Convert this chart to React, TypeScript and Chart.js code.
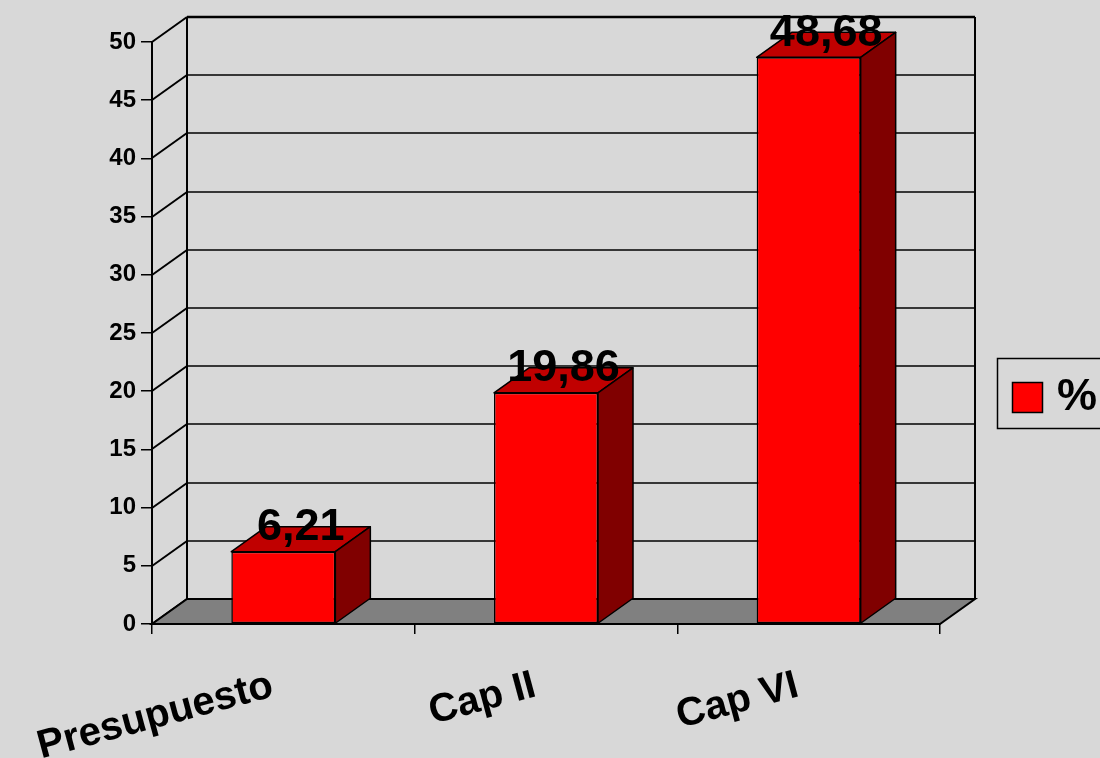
import React, { useEffect, useRef } from 'react';
import { Chart, registerables } from 'chart.js';

Chart.register(...registerables);

// ---- data ----
const categories = ['Presupuesto', 'Cap II', 'Cap VI'];
const values = [6.21, 19.86, 48.68];
const seriesName = '%';
const yMin = 0;
const yMax = 50;
const yStep = 5;

// ---- style ----
const FONT = '"Liberation Sans", Arial, sans-serif';
const BG = '#D8D8D8';
const FLOOR = '#808080';
const FRONT = '#FF0000';
const TOP = '#C00000';
const SIDE = '#800000';
const DX = 35;
const DY = 25;

const fmt = (v: number) => v.toFixed(2).replace('.', ',');

const threeD = {
  id: 'threeD',
  beforeDraw(chart: any) {
    const { ctx, width, height } = chart;
    ctx.save();
    ctx.fillStyle = BG;
    ctx.fillRect(0, 0, width, height);
    ctx.restore();
  },
  beforeDatasetsDraw(chart: any) {
    const { ctx, chartArea } = chart;
    const y = chart.scales.y;
    const L = chartArea.left;
    const R = chartArea.right;
    const base = y.getPixelForValue(yMin);
    const topV = y.getPixelForValue(yMax);
    ctx.save();
    ctx.strokeStyle = '#000';
    // back wall gridlines + side wall diagonals
    for (let v = yMin; v <= yMax + 1e-9; v += yStep) {
      const py = Math.round(y.getPixelForValue(v));
      ctx.lineWidth = v === yMax ? 2.5 : 1.5;
      ctx.beginPath();
      ctx.moveTo(L + DX, py - DY);
      ctx.lineTo(R + DX, py - DY);
      ctx.stroke();
      ctx.lineWidth = 2;
      ctx.beginPath();
      ctx.moveTo(L, py);
      ctx.lineTo(L + DX, py - DY);
      ctx.stroke();
    }
    // back wall vertical edges
    ctx.lineWidth = 2;
    ctx.beginPath();
    ctx.moveTo(L + DX, topV - DY);
    ctx.lineTo(L + DX, base - DY);
    ctx.moveTo(R + DX, topV - DY);
    ctx.lineTo(R + DX, base - DY);
    ctx.stroke();
    // floor
    ctx.beginPath();
    ctx.moveTo(L, base);
    ctx.lineTo(R, base);
    ctx.lineTo(R + DX, base - DY);
    ctx.lineTo(L + DX, base - DY);
    ctx.closePath();
    ctx.fillStyle = FLOOR;
    ctx.fill();
    ctx.lineWidth = 2;
    ctx.stroke();
    ctx.restore();
  },
  afterDatasetsDraw(chart: any) {
    const { ctx } = chart;
    const meta = chart.getDatasetMeta(0);
    const data = chart.data.datasets[0].data as number[];
    ctx.save();
    ctx.strokeStyle = '#000';
    ctx.lineWidth = 1.5;
    ctx.lineJoin = 'round';
    meta.data.forEach((bar: any) => {
      const p = bar.getProps(['x', 'y', 'base', 'width'], true);
      const l = p.x - p.width / 2;
      const r = p.x + p.width / 2;
      const t = p.y;
      const b = p.base;
      // top face
      ctx.beginPath();
      ctx.moveTo(l, t);
      ctx.lineTo(r, t);
      ctx.lineTo(r + DX, t - DY);
      ctx.lineTo(l + DX, t - DY);
      ctx.closePath();
      ctx.fillStyle = TOP;
      ctx.fill();
      ctx.stroke();
      // side face
      ctx.beginPath();
      ctx.moveTo(r, t);
      ctx.lineTo(r + DX, t - DY);
      ctx.lineTo(r + DX, b - DY);
      ctx.lineTo(r, b);
      ctx.closePath();
      ctx.fillStyle = SIDE;
      ctx.fill();
      ctx.stroke();
    });
    // value labels
    ctx.fillStyle = '#000';
    ctx.font = `bold 45px ${FONT}`;
    ctx.textAlign = 'center';
    ctx.textBaseline = 'alphabetic';
    meta.data.forEach((bar: any, i: number) => {
      const p = bar.getProps(['x', 'y'], true);
      ctx.fillText(fmt(data[i]), p.x + DX / 2, p.y - DY / 2 + 1);
    });
    ctx.restore();
  },
  afterDraw(chart: any) {
    const { ctx } = chart;
    const ds = chart.data.datasets[0];
    ctx.save();
    // legend box
    ctx.strokeStyle = '#000';
    ctx.lineWidth = 1.5;
    ctx.strokeRect(997.5, 358.5, 140, 70);
    ctx.fillStyle = ds.backgroundColor;
    ctx.fillRect(1012, 382, 31, 31);
    ctx.strokeRect(1012.5, 382.5, 30, 30);
    ctx.fillStyle = '#000';
    ctx.font = `bold 45px ${FONT}`;
    ctx.textAlign = 'left';
    ctx.textBaseline = 'middle';
    ctx.fillText(ds.label, 1057, 398);
    ctx.restore();
  },
};

export default function App() {
  const ref = useRef<HTMLCanvasElement>(null);
  useEffect(() => {
    const chart = new Chart(ref.current as HTMLCanvasElement, {
      type: 'bar',
      data: {
        labels: categories,
        datasets: [
          {
            label: seriesName,
            data: values,
            backgroundColor: FRONT,
            borderColor: '#000',
            borderWidth: 1.5,
            borderSkipped: false,
            categoryPercentage: 1,
            barPercentage: 0.396,
          },
        ],
      },
      options: {
        responsive: false,
        animation: false,
        devicePixelRatio: 1,
        layout: { padding: { top: 42, right: 160, left: 0, bottom: 0 } },
        plugins: {
          legend: { display: false },
          tooltip: { enabled: false },
          title: { display: false },
        },
        scales: {
          x: {
            afterFit: (s: any) => {
              s.height = 134;
              s.paddingLeft = 0;
              s.paddingRight = 0;
            },
            grid: {
              drawOnChartArea: false,
              drawTicks: true,
              tickLength: 10,
              color: '#000',
              lineWidth: 1.5,
            },
            border: { display: true, color: '#000', width: 2 },
            ticks: {
              autoSkip: false,
              minRotation: 15,
              maxRotation: 15,
              padding: 28,
              labelOffset: -11,
              color: '#000',
              font: { family: FONT, weight: 'bold', size: 40 },
            },
          },
          y: {
            min: yMin,
            max: yMax,
            afterFit: (s: any) => {
              s.width = 152;
            },
            grid: {
              drawOnChartArea: false,
              drawTicks: true,
              tickLength: 11,
              color: '#000',
              lineWidth: 1.5,
            },
            border: { display: true, color: '#000', width: 2 },
            ticks: {
              stepSize: yStep,
              padding: 5,
              color: '#000',
              font: { family: FONT, weight: 'bold', size: 24 },
            },
          },
        },
      },
      plugins: [threeD],
    } as any);
    return () => chart.destroy();
  }, []);
  return (
    <div style={{ position: 'fixed', left: 0, top: 0, width: 1100, height: 758, background: BG, overflow: 'hidden' }}>
      <canvas ref={ref} width={1100} height={758} style={{ display: 'block', width: 1100, height: 758 }} />
    </div>
  );
}
